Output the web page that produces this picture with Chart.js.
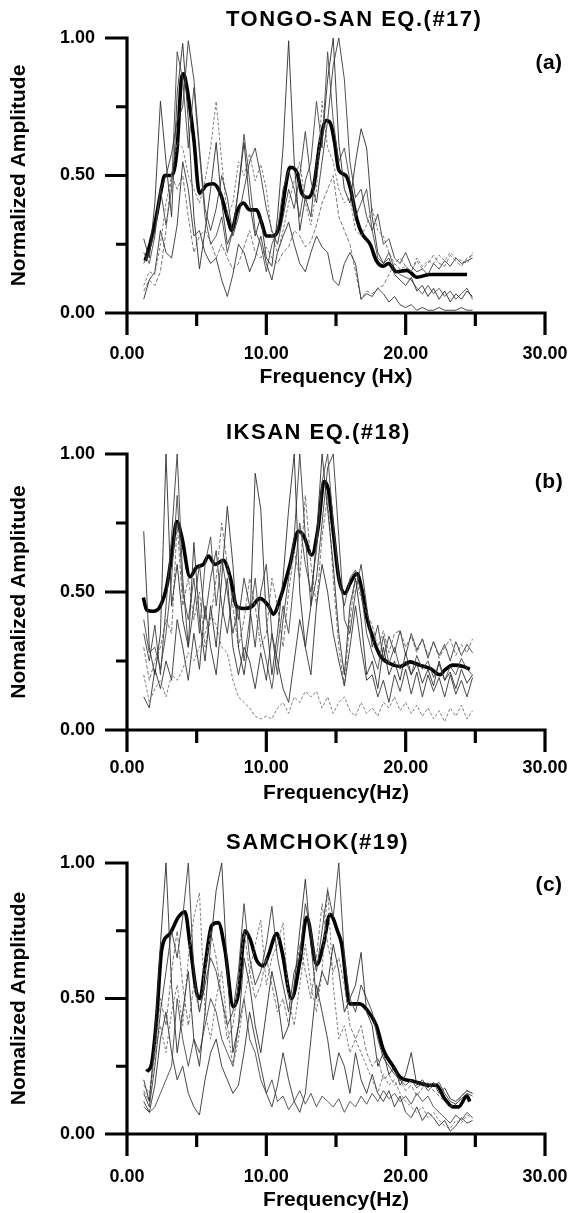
<!DOCTYPE html>
<html>
<head>
<meta charset="utf-8">
<script src="https://cdn.jsdelivr.net/npm/chart.js@4.4.1/dist/chart.umd.min.js"></script>
<style>
  body { margin: 0; background: #fff; }
  #wrap { position: relative; width: 570px; height: 1213px; }
  canvas { position: absolute; left: 0; }
</style>
</head>
<body>
<div id="wrap">
  <canvas id="chartA" width="570" height="400" style="top:0px"></canvas>
  <canvas id="chartB" width="570" height="410" style="top:400px"></canvas>
  <canvas id="chartC" width="570" height="403" style="top:810px"></canvas>
</div>
<script>
// text
const panelTitles = ['TONGO-SAN EQ.(#17)', 'IKSAN EQ.(#18)', 'SAMCHOK(#19)'];
const panelTags = ['(a)', '(b)', '(c)'];
const xTitles = ['Frequency (Hx)', 'Frequency(Hz)', 'Frequency(Hz)'];
const yTitles = ['Normalized Amplitude', 'Nomalized Amplitude', 'Nomalized Amplitude'];

// axis ticks
const xMajorTicks = [0, 10, 20, 30];
const xMinorTicks = [5, 15, 25];
const yMajorTicks = [0, 0.5, 1];
const yMinorTicks = [0.25, 0.75];

// shared frequency grid of the single-station spectra (Hz)
const freqGrid = [1.2, 1.6, 2.0, 2.4, 2.8, 3.2, 3.6, 4.0, 4.4, 4.8,
  5.2, 5.6, 6.0, 6.4, 6.8, 7.2, 7.6, 8.0, 8.4, 8.8,
  9.2, 9.6, 10.0, 10.4, 10.8, 11.2, 11.6, 12.0, 12.4, 12.8,
  13.2, 13.6, 14.0, 14.4, 14.8, 15.2, 15.6, 16.0, 16.4, 16.8,
  17.2, 17.6, 18.0, 18.4, 18.8, 19.2, 19.6, 20.0, 20.4, 20.8,
  21.2, 21.6, 22.0, 22.4, 22.8, 23.2, 23.6, 24.0, 24.4, 24.8];

// (a) TONGO-SAN
const tongoSta1 = [0.27,0.20,0.40,0.77,0.55,0.35,0.80,0.98,0.70,0.35, 0.16,0.30,0.45,0.62,0.40,0.25,0.30,0.45,0.62,0.40,
  0.28,0.35,0.20,0.17,0.35,0.60,0.99,0.55,0.30,0.42, 0.35,0.55,0.62,0.85,1.00,0.62,0.45,0.40,0.55,0.67,
  0.60,0.35,0.22,0.18,0.20,0.14,0.12,0.10,0.13,0.08, 0.10,0.06,0.09,0.05,0.08,0.04,0.07,0.05,0.08,0.06];
const tongoSta2 = [0.18,0.22,0.30,0.45,0.50,0.58,0.70,0.75,0.99,0.85, 0.60,0.38,0.30,0.38,0.50,0.42,0.28,0.35,0.45,0.55,
  0.60,0.50,0.38,0.30,0.25,0.35,0.45,0.38,0.50,0.66, 0.48,0.40,0.55,0.70,0.90,1.00,0.85,0.55,0.42,0.45,
  0.35,0.30,0.36,0.25,0.27,0.20,0.18,0.22,0.17,0.15, 0.16,0.14,0.18,0.16,0.19,0.17,0.20,0.18,0.19,0.20];
const tongoSta3 = [0.10,0.15,0.14,0.25,0.40,0.50,0.62,0.60,0.50,0.45, 0.40,0.48,0.60,0.77,0.55,0.35,0.40,0.55,0.50,0.58,
  0.48,0.54,0.45,0.28,0.22,0.30,0.40,0.48,0.55,0.40, 0.32,0.45,0.77,0.60,0.55,0.45,0.40,0.42,0.30,0.28,
  0.32,0.38,0.30,0.28,0.22,0.18,0.16,0.17,0.15,0.20, 0.17,0.19,0.18,0.21,0.19,0.22,0.20,0.19,0.18,0.22];
const tongoSta4 = [0.05,0.12,0.15,0.30,0.22,0.20,0.32,0.55,0.45,0.28, 0.30,0.22,0.18,0.20,0.12,0.06,0.14,0.25,0.22,0.15,
  0.20,0.28,0.18,0.12,0.22,0.28,0.33,0.25,0.18,0.15, 0.22,0.28,0.24,0.22,0.12,0.10,0.18,0.22,0.18,0.05,
  0.07,0.06,0.09,0.07,0.04,0.06,0.03,0.02,0.03,0.01, 0.02,0.01,0.01,0.02,0.01,0.01,0.01,0.02,0.01,0.01];
const tongoSta5 = [0.22,0.18,0.28,0.45,0.32,0.45,0.95,0.85,0.60,0.82, 0.58,0.35,0.25,0.28,0.35,0.22,0.30,0.45,0.65,0.48,
  0.30,0.25,0.15,0.25,0.30,0.45,0.52,0.45,0.35,0.48, 0.55,0.77,0.60,0.95,0.70,0.55,0.60,0.48,0.35,0.40,
  0.45,0.30,0.20,0.18,0.22,0.16,0.14,0.13,0.12,0.09, 0.07,0.10,0.07,0.09,0.06,0.08,0.05,0.07,0.09,0.05];
const tongoSta6 = [0.08,0.12,0.10,0.15,0.30,0.50,0.45,0.50,0.35,0.22, 0.28,0.30,0.26,0.20,0.25,0.20,0.16,0.18,0.24,0.30,
  0.22,0.20,0.24,0.20,0.18,0.22,0.24,0.30,0.28,0.24, 0.26,0.32,0.40,0.45,0.50,0.35,0.30,0.25,0.15,0.05,
  0.08,0.07,0.09,0.10,0.14,0.18,0.20,0.17,0.15,0.19, 0.16,0.18,0.21,0.18,0.17,0.21,0.19,0.17,0.20,0.21];
const tongoMeanFreq = [1.3,1.65,2.1,2.5,2.7,3.2,3.6,3.9,4.05,4.3,4.8,5.2,5.7,6.2,6.7,7.3,7.5,7.9,8.35,8.8,9.3,9.65,10.0,10.5,11.0,
  11.35,11.7,12.2,12.55,13.0,13.4,13.85,14.3,14.6,14.9,15.2,15.7,16.0,16.5,16.85,17.45,17.9,18.4,18.75,19.35,20.1,20.8,21.75,22.7,23.5,24.4];
const tongoMean = [0.19,0.25,0.35,0.46,0.50,0.50,0.60,0.85,0.87,0.82,0.63,0.435,0.465,0.47,0.435,0.33,0.30,0.37,0.40,0.375,0.375,0.33,0.28,0.28,0.33,
  0.45,0.53,0.51,0.435,0.42,0.46,0.62,0.70,0.69,0.62,0.52,0.50,0.46,0.34,0.29,0.25,0.19,0.17,0.18,0.15,0.155,0.13,0.14,0.14,0.14,0.14];

// (b) IKSAN
const iksanSta1 = [0.72,0.30,0.20,0.35,1.00,0.45,0.60,0.40,0.30,0.68, 0.40,0.25,0.45,0.30,0.55,0.81,0.60,0.30,0.20,0.35,
  0.93,0.80,0.40,0.20,0.35,0.55,0.80,1.00,0.50,0.30, 0.45,0.70,1.00,0.80,0.60,0.35,0.20,0.45,0.55,0.40,
  0.20,0.25,0.15,0.30,0.20,0.25,0.18,0.28,0.20,0.24, 0.17,0.22,0.16,0.25,0.18,0.21,0.15,0.22,0.17,0.20];
const iksanSta2 = [0.35,0.25,0.38,0.20,0.45,0.70,1.00,0.55,0.30,0.45, 0.60,0.40,0.55,0.65,0.45,0.35,0.50,0.40,0.55,0.45,
  0.30,0.50,0.60,0.35,0.20,0.40,0.55,0.70,1.00,0.70, 0.45,0.55,0.75,0.95,1.00,0.70,0.40,0.35,0.50,0.60,
  0.45,0.30,0.38,0.26,0.34,0.28,0.36,0.27,0.35,0.29, 0.33,0.26,0.32,0.27,0.31,0.25,0.32,0.27,0.31,0.28];
const iksanSta3 = [0.20,0.10,0.15,0.18,0.12,0.20,0.18,0.22,0.28,0.25, 0.30,0.35,0.42,0.38,0.30,0.28,0.18,0.12,0.10,0.08,
  0.05,0.04,0.05,0.04,0.08,0.10,0.06,0.12,0.10,0.14, 0.12,0.14,0.08,0.12,0.06,0.10,0.12,0.07,0.05,0.10,
  0.06,0.08,0.05,0.10,0.08,0.12,0.07,0.10,0.06,0.09, 0.05,0.08,0.04,0.07,0.03,0.08,0.05,0.09,0.04,0.07];
const iksanSta4 = [0.12,0.08,0.22,0.15,0.25,0.18,0.40,0.30,0.18,0.35, 0.22,0.45,0.30,0.20,0.40,0.55,0.30,0.20,0.30,0.25,
  0.15,0.28,0.18,0.35,0.25,0.15,0.10,0.25,0.40,0.30, 0.20,0.45,0.60,0.50,0.35,0.25,0.16,0.30,0.45,0.30,
  0.18,0.20,0.12,0.18,0.10,0.20,0.14,0.22,0.13,0.21, 0.12,0.20,0.14,0.19,0.12,0.20,0.13,0.18,0.12,0.19];
const iksanSta5 = [0.40,0.28,0.30,0.22,0.35,0.55,0.85,0.50,0.40,0.55, 0.35,0.60,0.70,0.45,0.62,0.50,0.35,0.45,0.25,0.40,
  0.55,0.35,0.25,0.15,0.30,0.45,0.35,0.55,0.75,0.60, 0.50,0.65,0.90,1.00,0.75,0.55,0.45,0.55,0.58,0.50,
  0.35,0.28,0.22,0.34,0.24,0.30,0.22,0.25,0.20,0.27, 0.22,0.25,0.19,0.24,0.18,0.23,0.20,0.26,0.22,0.20];
const iksanSta6 = [0.30,0.18,0.25,0.30,0.40,0.35,0.75,0.45,0.55,0.40, 0.50,0.30,0.40,0.55,0.75,0.60,0.45,0.30,0.40,0.55,
  0.45,0.30,0.35,0.55,0.45,0.30,0.50,0.65,0.55,0.85, 0.60,0.45,0.70,0.85,0.55,0.30,0.16,0.40,0.55,0.48,
  0.42,0.38,0.30,0.36,0.28,0.35,0.36,0.30,0.34,0.28, 0.33,0.27,0.32,0.26,0.30,0.33,0.27,0.31,0.28,0.33];
const iksanMeanFreq = [1.17,1.41,1.89,2.37,2.85,3.2,3.57,3.93,4.52,5.0,5.48,5.84,6.32,6.92,7.4,7.87,8.35,8.95,9.55,10.15,10.5,11.0,11.7,12.3,12.66,
  13.26,13.73,14.14,14.45,14.8,15.2,15.65,16.0,16.5,16.85,17.2,17.7,18.16,18.9,19.6,20.3,21.0,21.75,22.47,22.8,23.4,24.15,24.6];
const iksanMean = [0.48,0.435,0.43,0.447,0.52,0.63,0.755,0.70,0.555,0.59,0.60,0.63,0.60,0.615,0.555,0.447,0.44,0.447,0.477,0.45,0.42,0.477,0.60,0.72,0.706,
  0.634,0.737,0.90,0.87,0.72,0.55,0.495,0.53,0.567,0.51,0.41,0.326,0.27,0.24,0.23,0.247,0.235,0.223,0.20,0.217,0.235,0.23,0.22];

// (c) SAMCHOK
const samchokSta1 = [0.20,0.12,0.35,0.70,1.00,0.55,0.30,0.45,0.60,0.35, 0.25,0.45,0.70,0.90,1.00,0.60,0.30,0.40,0.65,0.55,
  0.40,0.30,0.45,0.60,0.50,0.35,0.40,0.55,0.75,0.94, 0.70,0.50,0.60,0.55,0.70,0.60,0.45,0.50,0.55,0.67,
  0.45,0.40,0.25,0.30,0.22,0.25,0.18,0.22,0.30,0.18, 0.20,0.17,0.19,0.15,0.17,0.13,0.12,0.14,0.16,0.15];
const samchokSta2 = [0.15,0.10,0.25,0.45,0.60,0.75,0.65,0.80,1.00,0.60, 0.45,0.55,0.65,0.60,0.50,0.40,0.45,0.60,0.85,0.65,
  0.55,0.60,0.70,0.84,0.65,0.55,0.45,0.60,0.65,0.85, 0.75,0.60,0.75,0.90,0.80,1.00,0.65,0.50,0.45,0.55,
  0.50,0.45,0.35,0.28,0.25,0.22,0.20,0.18,0.20,0.17, 0.19,0.16,0.18,0.19,0.15,0.12,0.11,0.13,0.15,0.14];
const samchokSta3 = [0.18,0.15,0.30,0.40,0.30,0.45,0.55,0.40,0.65,0.80, 0.89,0.45,0.35,0.50,0.60,0.40,0.25,0.35,0.50,0.60,
  0.70,0.79,0.55,0.65,0.70,0.78,0.50,0.40,0.55,0.70, 0.55,0.45,0.60,0.91,0.55,0.35,0.40,0.30,0.35,0.30,
  0.25,0.20,0.15,0.22,0.18,0.20,0.15,0.12,0.10,0.08, 0.10,0.06,0.08,0.05,0.03,0.02,0.05,0.04,0.07,0.06];
const samchokSta4 = [0.12,0.08,0.18,0.35,0.45,0.30,0.20,0.25,0.15,0.10, 0.07,0.20,0.30,0.35,0.25,0.20,0.15,0.18,0.30,0.45,
  0.35,0.25,0.15,0.10,0.18,0.30,0.20,0.12,0.08,0.15, 0.35,0.55,0.45,0.35,0.20,0.30,0.25,0.15,0.30,0.20,
  0.15,0.22,0.15,0.12,0.16,0.10,0.14,0.08,0.06,0.10, 0.05,0.08,0.06,0.03,0.05,0.01,0.03,0.06,0.04,0.05];
const samchokSta5 = [0.10,0.08,0.10,0.15,0.20,0.25,0.50,0.35,0.25,0.35, 0.30,0.40,0.50,0.45,0.35,0.30,0.25,0.40,0.50,0.35,
  0.30,0.20,0.15,0.20,0.12,0.14,0.09,0.12,0.16,0.11, 0.15,0.10,0.14,0.12,0.10,0.13,0.08,0.12,0.10,0.14,
  0.11,0.15,0.12,0.16,0.13,0.15,0.12,0.14,0.11,0.15, 0.12,0.14,0.10,0.08,0.06,0.04,0.07,0.05,0.08,0.06];
const samchokSta6 = [0.16,0.12,0.30,0.50,0.40,0.60,0.75,0.55,0.40,0.55, 0.45,0.60,0.75,0.65,0.50,0.35,0.40,0.55,0.75,0.60,
  0.50,0.55,0.65,0.55,0.45,0.50,0.40,0.55,0.70,0.60, 0.50,0.65,0.85,0.70,0.60,0.65,0.55,0.40,0.35,0.40,
  0.30,0.25,0.28,0.20,0.22,0.18,0.20,0.16,0.18,0.14, 0.17,0.19,0.16,0.14,0.12,0.10,0.11,0.14,0.16,0.15];
const samchokMeanFreq = [1.41,1.77,2.13,2.49,3.09,3.68,4.16,4.52,5.0,5.24,5.6,6.08,6.55,7.03,7.63,8.0,8.47,8.83,9.31,9.79,10.15,10.75,11.1,11.82,12.42,
  12.9,13.62,14.1,14.57,15.17,15.41,16.0,16.7,17.2,17.9,18.4,19.1,19.6,20.55,21.75,22.2,22.8,23.4,23.8,24.4,24.6];
const samchokMean = [0.23,0.26,0.43,0.68,0.74,0.80,0.82,0.70,0.52,0.50,0.62,0.77,0.78,0.68,0.47,0.52,0.75,0.72,0.64,0.62,0.66,0.74,0.68,0.50,0.64,
  0.80,0.625,0.70,0.81,0.74,0.70,0.48,0.48,0.46,0.40,0.31,0.25,0.21,0.195,0.18,0.18,0.13,0.10,0.10,0.14,0.12];

// thin line looks, one per station
const staStyles = [
  { color: '#2e2e2e', width: 0.9, dash: [] },
  { color: '#3c3c3c', width: 0.9, dash: [] },
  { color: '#707070', width: 0.9, dash: [3, 2] },
  { color: '#333333', width: 0.9, dash: [] },
  { color: '#484848', width: 0.9, dash: [] },
  { color: '#6a6a6a', width: 0.9, dash: [4, 2] }
];

const FONT = '"Liberation Sans", Arial, Helvetica, sans-serif';

function toPoints(xs, ys) {
  return xs.map((f, i) => ({ x: f, y: ys[i] }));
}

// axis lines and tick marks, placed with the chart scales
const axisFrame = {
  id: 'axisFrame',
  afterDatasetsDraw(chart) {
    const { ctx, scales: { x, y } } = chart;
    const x0 = x.getPixelForValue(0);
    const y0 = y.getPixelForValue(0);
    ctx.save();
    ctx.strokeStyle = '#000';
    ctx.lineWidth = 3.2;
    ctx.beginPath();
    ctx.moveTo(x0 - 22, y0);
    ctx.lineTo(x.getPixelForValue(30) + 1.6, y0);
    ctx.moveTo(x0, y.getPixelForValue(1) - 1.6);
    ctx.lineTo(x0, y0 + 22);
    yMajorTicks.forEach(v => { const p = y.getPixelForValue(v); ctx.moveTo(x0 - 22, p); ctx.lineTo(x0, p); });
    yMinorTicks.forEach(v => { const p = y.getPixelForValue(v); ctx.moveTo(x0 - 11, p); ctx.lineTo(x0, p); });
    xMajorTicks.forEach(v => { const p = x.getPixelForValue(v); ctx.moveTo(p, y0); ctx.lineTo(p, y0 + 22); });
    xMinorTicks.forEach(v => { const p = x.getPixelForValue(v); ctx.moveTo(p, y0); ctx.lineTo(p, y0 + 13); });
    ctx.stroke();
    ctx.restore();
  }
};

// panel title and (a)/(b)/(c) tag
const panelText = {
  id: 'panelText',
  afterDraw(chart, args, opts) {
    const ctx = chart.ctx;
    ctx.save();
    ctx.fillStyle = '#000';
    ctx.textBaseline = 'middle';
    ctx.font = 'bold 22px ' + FONT;
    ctx.letterSpacing = '1.5px';
    ctx.textAlign = 'left';
    ctx.fillText(opts.title, 226, opts.titleY);
    ctx.font = 'bold 21px ' + FONT;
    ctx.letterSpacing = '0.5px';
    ctx.textAlign = 'center';
    ctx.fillText(opts.tag, 549, opts.tagY);
    ctx.restore();
  }
};

// invisible tick marks only push the labels away from the axis
const hiddenGrid = len => ({
  display: true,
  drawOnChartArea: false,
  drawTicks: true,
  tickLength: len,
  color: 'rgba(0,0,0,0)',
  tickColor: 'rgba(0,0,0,0)'
});

function makePanel(id, k, stations, meanFreq, mean, lay) {
  const datasets = stations.map((s, i) => ({
    data: toPoints(freqGrid, s),
    borderColor: staStyles[i].color,
    borderWidth: staStyles[i].width,
    borderDash: staStyles[i].dash,
    pointRadius: 0,
    tension: 0,
    clip: false
  }));
  datasets.push({
    data: toPoints(meanFreq, mean),
    borderColor: '#000',
    borderWidth: 3.6,
    pointRadius: 0,
    tension: 0.4,
    cubicInterpolationMode: 'monotone',
    clip: false
  });

  const canvas = document.getElementById(id);
  new Chart(canvas, {
    type: 'line',
    data: { datasets },
    options: {
      responsive: false,
      animation: false,
      devicePixelRatio: 1,
      layout: { padding: { top: lay.top, right: 25, left: 0, bottom: 0 } },
      plugins: {
        legend: { display: false },
        tooltip: { enabled: false },
        panelText: { title: panelTitles[k], tag: panelTags[k], titleY: lay.titleY, tagY: lay.tagY }
      },
      scales: {
        x: {
          type: 'linear',
          min: 0,
          max: 30,
          grid: hiddenGrid(lay.xTickGap),
          border: { display: false },
          afterFit(s) { s.height = canvas.height - lay.bottom; },
          ticks: {
            stepSize: 10,
            padding: 0,
            maxRotation: 0,
            color: '#000',
            font: { family: FONT, size: 18, weight: 'bold' },
            callback: v => Number(v).toFixed(2)
          },
          title: {
            display: true,
            text: xTitles[k],
            color: '#000',
            font: { family: FONT, size: 21, weight: 'bold' },
            padding: { top: 0, bottom: lay.xTitlePad }
          }
        },
        y: {
          min: 0,
          max: 1,
          grid: hiddenGrid(32),
          border: { display: false },
          afterFit(s) { s.width = 127; },
          ticks: {
            stepSize: 0.25,
            padding: 0,
            color: '#000',
            font: { family: FONT, size: 18, weight: 'bold' },
            callback: v => (Math.abs(v * 2 - Math.round(v * 2)) < 1e-6 ? Number(v).toFixed(2) : '')
          },
          title: {
            display: true,
            text: yTitles[k],
            color: '#000',
            font: { family: FONT, size: 21, weight: 'bold' },
            padding: { top: 7, bottom: 0 }
          }
        }
      }
    },
    plugins: [axisFrame, panelText]
  });
}

makePanel('chartA', 0,
  [tongoSta1, tongoSta2, tongoSta3, tongoSta4, tongoSta5, tongoSta6],
  tongoMeanFreq, tongoMean,
  { top: 38, bottom: 313, xTickGap: 30, xTitlePad: 10, titleY: 20, tagY: 63 });

makePanel('chartB', 1,
  [iksanSta1, iksanSta2, iksanSta3, iksanSta4, iksanSta5, iksanSta6],
  iksanMeanFreq, iksanMean,
  { top: 54, bottom: 330, xTickGap: 27, xTitlePad: 4, titleY: 33, tagY: 82 });

makePanel('chartC', 2,
  [samchokSta1, samchokSta2, samchokSta3, samchokSta4, samchokSta5, samchokSta6],
  samchokMeanFreq, samchokMean,
  { top: 53, bottom: 324, xTickGap: 32, xTitlePad: 0, titleY: 33, tagY: 75 });
</script>
</body>
</html>
